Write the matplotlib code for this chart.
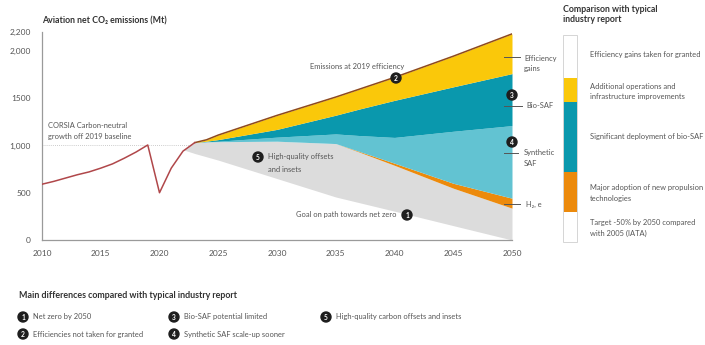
import matplotlib
matplotlib.use("Agg")
import matplotlib.pyplot as plt
from matplotlib.patches import Circle, Rectangle

plt.rcParams['font.family'] = ['Lato', 'DejaVu Sans']

# ---- data ----
hist_years = [2010, 2011, 2012, 2013, 2014, 2015, 2016, 2017, 2018, 2019, 2020, 2021, 2022, 2023]
hist_values = [590, 620, 655, 690, 720, 760, 805, 865, 930, 1005, 500, 760, 940, 1030]

fc_years = [2022, 2023, 2024, 2025, 2030, 2035, 2037, 2040, 2045, 2050]
emissions_2019_eff = [950, 1030, 1060, 1110, 1318, 1512, 1595, 1720, 1944, 2180]
after_efficiency = [950, 1030, 1045, 1062, 1170, 1320, 1385, 1477, 1620, 1760]
after_bio_saf = [950, 1030, 1040, 1045, 1088, 1122, 1105, 1085, 1150, 1210]
after_synthetic = [950, 1030, 1038, 1040, 1045, 1020, 937, 812, 600, 442]
after_h2 = [950, 1030, 1038, 1040, 1045, 1020, 930, 790, 548, 337]
goal_net_zero = [955, 915, 880, 845, 650, 455, 395, 305, 152, 0]

y_ticks = [0, 500, 1000, 1500, 2000, 2200]
y_tick_labels = ['0', '500', '1,000', '1500', '2,000', '2,200']
x_ticks = [2010, 2015, 2020, 2025, 2030, 2035, 2040, 2045, 2050]

legend_segments = ['white', 'yellow', 'teal', 'orange', 'white']
legend_texts = ['Efficiency gains taken for granted',
                'Additional operations and\ninfrastructure improvements',
                'Significant deployment of bio-SAF',
                'Major adoption of new propulsion\ntechnologies',
                'Target -50% by 2050 compared\nwith 2005 (IATA)']
diff_items = [(1, 'Net zero by 2050'), (2, 'Efficiencies not taken for granted'),
              (3, 'Bio-SAF potential limited'), (4, 'Synthetic SAF scale-up sooner'),
              (5, 'High-quality carbon offsets and insets')]

# ---- colours ----
YELLOW = '#fac80a'
TEAL = '#0a98ad'
LTEAL = '#62c3d2'
ORANGE = '#ec8a0c'
GRAY = '#dcdcdc'
TXT = '#555555'
RED = '#b0474a'
BROWN = '#8e4a1e'

W, H = 705, 345
fig = plt.figure(figsize=(W / 100, H / 100), dpi=100)
fig.patch.set_facecolor('white')

# main axes in pixel layout: x 42..512, y 32..240
x0, x1, ytop, ybot = 42, 512, 32, 240
ax = fig.add_axes([x0 / W, (H - ybot) / H, (x1 - x0) / W, (ybot - ytop) / H])
ax.set_xlim(2010, 2050)
ax.set_ylim(0, 2200)

ax.fill_between(fc_years, goal_net_zero, after_h2, color=GRAY, lw=0, zorder=1)
ax.fill_between(fc_years, after_h2, after_synthetic, color=ORANGE, lw=0, zorder=1)
ax.fill_between(fc_years, after_synthetic, after_bio_saf, color=LTEAL, lw=0, zorder=1)
ax.fill_between(fc_years, after_bio_saf, after_efficiency, color=TEAL, lw=0, zorder=1)
ax.fill_between(fc_years, after_efficiency, emissions_2019_eff, color=YELLOW, lw=0, zorder=1)
ax.plot(fc_years[1:], emissions_2019_eff[1:], color=BROWN, lw=1.1, zorder=3)
ax.plot(hist_years, hist_values, color=RED, lw=1.1, zorder=3)
ax.plot([2010, 2023.5], [1000, 1000], color='#bbbbbb', lw=0.6, ls=(0, (1, 1.5)), zorder=0)

for s in ['top', 'right']:
    ax.spines[s].set_visible(False)
for s in ['left', 'bottom']:
    ax.spines[s].set_color('#9a9a9a')
    ax.spines[s].set_linewidth(0.9)
ax.set_yticks(y_ticks)
ax.set_yticklabels(y_tick_labels)
ax.set_xticks(x_ticks)
ax.tick_params(length=0, labelsize=6, colors=TXT)
ax.tick_params(axis='x', pad=7)
ax.tick_params(axis='y', pad=8)
ax.set_facecolor('none')

# ---- overlay in pixel coordinates ----
ov = fig.add_axes([0, 0, 1, 1])
ov.set_xlim(0, W)
ov.set_ylim(H, 0)
ov.axis('off')
ov.set_facecolor('none')


def num(x, y, n, r=5):
    ov.add_patch(Circle((x, y), r, color='#1e1e1e', zorder=5))
    ov.text(x, y + 0.3, str(n), color='white', fontsize=4.8, fontweight='bold',
            ha='center', va='center', zorder=6)


fs = 5.4
TITLE = '#333333'
ov.text(42, 21, 'Aviation net CO₂ emissions (Mt)', fontsize=6.3, fontweight='bold',
        color=TITLE, va='center', ha='left')
ov.text(48, 126, 'CORSIA Carbon-neutral', fontsize=fs, color=TXT, va='center')
ov.text(48, 137, 'growth off 2019 baseline', fontsize=fs, color=TXT, va='center')

ov.text(357, 66, 'Emissions at 2019 efficiency', fontsize=fs, color=TXT, va='center', ha='center')
num(396, 78, 2)
num(258, 157, 5)
ov.text(268, 157, 'High-quality offsets', fontsize=fs, color=TXT, va='center')
ov.text(268, 169, 'and insets', fontsize=fs, color=TXT, va='center')
ov.text(397, 215, 'Goal on path towards net zero', fontsize=fs, color=TXT, va='center', ha='right')
num(407, 215, 1)

num(512, 95, 3)
num(512, 142, 4)
for yy, x2 in [(57, 520), (106, 522), (153, 518), (204, 520)]:
    ov.plot([504, x2], [yy, yy], color='#555555', lw=0.7)
ov.text(524, 58, 'Efficiency', fontsize=fs, color=TXT, va='center')
ov.text(524, 69, 'gains', fontsize=fs, color=TXT, va='center')
ov.text(526, 106, 'Bio-SAF', fontsize=fs, color=TXT, va='center')
ov.text(524, 153, 'Synthetic', fontsize=fs, color=TXT, va='center')
ov.text(524, 164, 'SAF', fontsize=fs, color=TXT, va='center')
ov.text(526, 204, 'H₂, e', fontsize=fs, color=TXT, va='center')

# legend bar
ov.text(563, 9, 'Comparison with typical', fontsize=6.3, fontweight='bold', color=TITLE, va='center')
ov.text(563, 20, 'industry report', fontsize=6.3, fontweight='bold', color=TITLE, va='center')
seg_colors = {'white': 'white', 'yellow': YELLOW, 'teal': TEAL, 'orange': ORANGE}
bounds = [35, 78, 102, 172, 212, 242]
text_y = [55, 91.5, 137, 193, 228]
for i, key in enumerate(legend_segments):
    ov.add_patch(Rectangle((563, bounds[i]), 14, bounds[i + 1] - bounds[i],
                           facecolor=seg_colors[key], edgecolor='none'))
    ov.text(590, text_y[i], legend_texts[i], fontsize=fs, color=TXT, va='center',
            linespacing=1.65)
ov.add_patch(Rectangle((563, 35), 14, 207, facecolor='none', edgecolor='#d5d5d5', lw=0.7))

# bottom notes
ov.text(19, 295, 'Main differences compared with typical industry report', fontsize=6.4,
        fontweight='bold', color=TITLE, va='center')
pos = {1: (23, 317), 2: (23, 334), 3: (174, 317), 4: (174, 334), 5: (326, 317)}
for n, label in diff_items:
    px, py = pos[n]
    num(px, py, n)
    ov.text(px + 10, py, label, fontsize=fs, color=TXT, va='center')

fig.savefig('out.png', dpi=100)
